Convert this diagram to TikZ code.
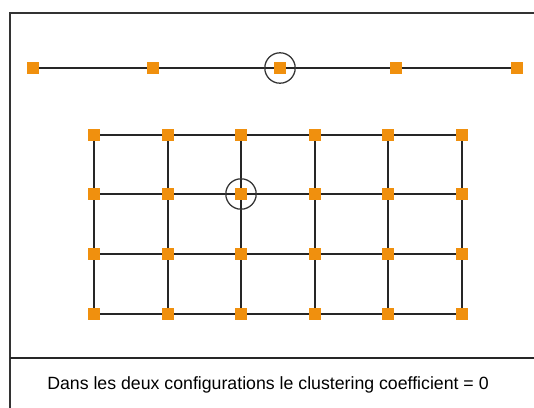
\documentclass[tikz,border=0pt]{standalone}
\usepackage{fontspec}
\setmainfont{Liberation Sans}
\definecolor{vertexorange}{HTML}{F0900E}
\tikzset{
  vertex/.style={fill=vertexorange, minimum size=0.3cm, inner sep=0pt},
  link/.style={line width=1.3pt, black!85},
  mark ring/.style={draw=black!80, line width=0.9pt, circle, minimum size=0.76cm, inner sep=0pt}
}
\begin{document}
\begin{tikzpicture}[x=0.025cm, y=-0.025cm]
\useasboundingbox (0,0) rectangle (534,408);
% frame and caption strip
\draw[line width=1.4pt, black!80] (10,408) -- (10,13) -- (538,13);
\draw[line width=1pt, black!85] (10,358) -- (538,358);
\node (cap) at (268,385) {\fontsize{12.6}{14}\selectfont Dans les deux configurations le clustering coefficient = 0};
% chain
\node[vertex] (c1) at (33,68) {};
\node[vertex] (c2) at (153,68) {};
\node[vertex] (c3) at (280,68) {};
\node[vertex] (c4) at (396,68) {};
\node[vertex] (c5) at (517,68) {};
\draw[link] (c1) -- (c2);
\draw[link] (c2) -- (c3);
\draw[link] (c3) -- (c4);
\draw[link] (c4) -- (c5);
\node[mark ring] (ring1) at (c3) {};
% grid
\foreach \i/\x in {1/94,2/168,3/241,4/315,5/388,6/462}
  \foreach \j/\y in {1/135,2/194,3/254,4/314}
    \node[vertex] (v\i\j) at (\x,\y) {};
\foreach \j in {1,...,4}
  \foreach \i [count=\k from 2] in {1,...,5}
    \draw[link] (v\i\j) -- (v\k\j);
\foreach \i in {1,...,6}
  \foreach \j [count=\k from 2] in {1,...,3}
    \draw[link] (v\i\j) -- (v\i\k);
\node[mark ring] (ring2) at (v32) {};
\end{tikzpicture}
\end{document}
